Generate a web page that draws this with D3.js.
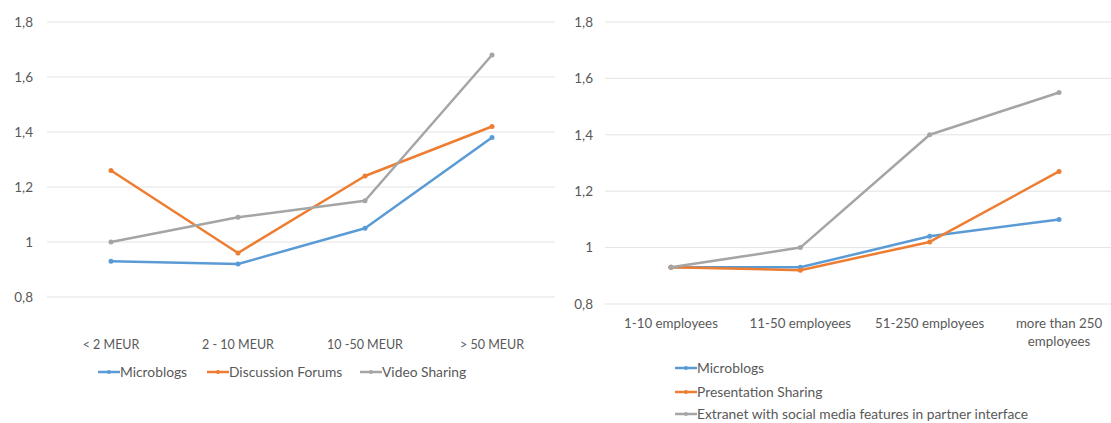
<!DOCTYPE html>
<html><head><meta charset="utf-8">
<script src="https://cdn.jsdelivr.net/npm/d3@7"></script>
<style>body{margin:0;background:#fff}svg{display:block}text{font-family:Lato,"Open Sans",sans-serif;fill:#595959}</style>
</head><body><svg id="c" width="1111" height="423"></svg>
<script>
const revenueCats = ["< 2 MEUR", "2 - 10 MEUR", "10 -50 MEUR", "> 50 MEUR"];
const microblogsRev = [0.93, 0.92, 1.05, 1.38];
const forumsRev = [1.26, 0.96, 1.24, 1.42];
const videoRev = [1.00, 1.09, 1.15, 1.68];

const sizeCats = ["1-10 employees", "11-50 employees", "51-250 employees", "more than 250 employees"];
const microblogsSize = [0.93, 0.93, 1.04, 1.10];
const presentationSize = [0.93, 0.92, 1.02, 1.27];
const extranetSize = [0.93, 1.00, 1.40, 1.55];

const yTicks = [0.8, 1.0, 1.2, 1.4, 1.6, 1.8];
const fmt = v => String(+v.toFixed(1)).replace(".", ",");

const colors = ["#5b9bd5", "#ed7d31", "#a5a5a5"];
const svg = d3.select("#c");

function panel(cfg) {
  const g = svg.append("g");
  const x = d3.scaleBand().domain(cfg.cats).range([cfg.x0, cfg.x1]);
  const cx = c => x(c) + x.bandwidth() / 2;
  const y = d3.scaleLinear().domain([0.8, 1.8]).range([cfg.yb, cfg.yt]);
  g.selectAll(".grid").data(yTicks).join("line")
    .attr("x1", cfg.gx0).attr("x2", cfg.gx1)
    .attr("y1", d => y(d)).attr("y2", d => y(d))
    .attr("stroke", "#e3e3e3").attr("stroke-width", 1);
  const ya = d3.axisLeft(y).tickValues(yTicks).tickFormat(fmt).tickSize(0).tickPadding(0);
  const yg = g.append("g").attr("transform", `translate(${cfg.ylx},0)`).call(ya);
  yg.select(".domain").remove();
  yg.selectAll("text").style("font-size", "13.5px").attr("fill", "#595959");
  const xa = d3.axisBottom(x).tickSize(0).tickPadding(0);
  const xg = g.append("g").attr("transform", `translate(0,${cfg.xly})`).call(xa);
  xg.select(".domain").remove();
  xg.selectAll("text").style("font-size", cfg.xfs).attr("fill", "#595959").attr("dy", "0.35em");
  if (cfg.wrap) {
    xg.selectAll("text").each(function(d) {
      const t = d3.select(this);
      if (d.length > 20) {
        t.text(null);
        t.append("tspan").attr("x", 0).attr("dy", "0.35em").text("more than 250");
        t.append("tspan").attr("x", 0).attr("dy", "1.4em").text("employees");
      }
    });
  }
  const line = d3.line().x((d, i) => cx(cfg.cats[i])).y(d => y(d));
  cfg.series.forEach((s, k) => {
    g.append("path").datum(s.values).attr("d", line)
      .attr("fill", "none").attr("stroke", colors[k]).attr("stroke-width", 2.5)
      .attr("stroke-linejoin", "round");
    g.selectAll(".pt" + k).data(s.values).join("circle")
      .attr("cx", (d, i) => cx(cfg.cats[i])).attr("cy", d => y(d))
      .attr("r", 2.5).attr("fill", colors[k]);
  });
  cfg.series.forEach((s, k) => {
    const [lx, ly] = cfg.legendPos[k];
    g.append("line").attr("x1", lx).attr("x2", lx + 22).attr("y1", ly).attr("y2", ly)
      .attr("stroke", colors[k]).attr("stroke-width", 2.5);
    g.append("circle").attr("cx", lx + 11).attr("cy", ly).attr("r", 2).attr("fill", colors[k]);
    g.append("text").attr("x", lx + 22).attr("y", ly).attr("dy", "0.35em")
      .style("font-size", "13.8px").text(s.name);
  });
}

panel({
  cats: revenueCats, x0: 47.5, x1: 555.5, gx0: 47, gx1: 555, yt: 22, yb: 297, ylx: 33, xly: 345, xfs: "12.5px",
  series: [{name: "Microblogs", values: microblogsRev}, {name: "Discussion Forums", values: forumsRev}, {name: "Video Sharing", values: videoRev}],
  legendPos: [[98, 372], [207, 372], [360, 372]]
});
panel({
  cats: sizeCats, x0: 606.3, x1: 1123.7, gx0: 605, gx1: 1111, yt: 22, yb: 304, ylx: 593, xly: 323, xfs: "13.3px", wrap: true,
  series: [{name: "Microblogs", values: microblogsSize}, {name: "Presentation Sharing", values: presentationSize}, {name: "Extranet with social media features in partner interface", values: extranetSize}],
  legendPos: [[675, 368], [675, 392], [675, 414]]
});
</script></body></html>
